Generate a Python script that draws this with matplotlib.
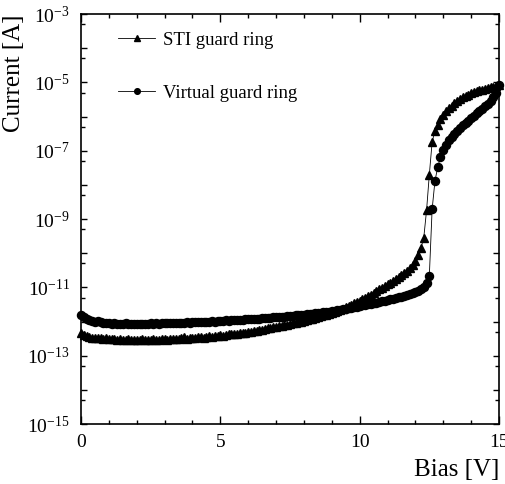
import numpy as np
import matplotlib
matplotlib.use("Agg")
import matplotlib.pyplot as plt
from matplotlib.ticker import FixedLocator, FuncFormatter

plt.rcParams["font.family"] = ["Liberation Serif", "DejaVu Serif"]
plt.rcParams["mathtext.fontset"] = "custom"
plt.rcParams["mathtext.rm"] = "Liberation Serif"
plt.rcParams["mathtext.it"] = "Liberation Serif:italic"

# Bias sweep 0 .. 15 V in 0.1 V steps
bias = np.round(np.arange(0, 151) * 0.1, 1)

# log10 of the leakage current [A], STI guard ring
sti_log = [
    -12.34, -12.40, -12.43, -12.45, -12.47, -12.48, -12.49, -12.47, -12.50, -12.49,
    -12.51, -12.52, -12.50, -12.53, -12.52, -12.54, -12.53, -12.52, -12.54, -12.53,
    -12.53, -12.54, -12.52, -12.53, -12.55, -12.53, -12.52, -12.54, -12.53, -12.51,
    -12.52, -12.53, -12.51, -12.52, -12.50, -12.51, -12.49, -12.46, -12.50, -12.48,
    -12.47, -12.48, -12.46, -12.45, -12.47, -12.44, -12.43, -12.45, -12.42, -12.41,
    -12.40, -12.41, -12.39, -12.38, -12.37, -12.38, -12.36, -12.35, -12.34, -12.33,
    -12.31, -12.30, -12.28, -12.27, -12.25, -12.24, -12.22, -12.20, -12.19, -12.17,
    -12.15, -12.14, -12.12, -12.10, -12.09, -12.07, -12.05, -12.04, -12.02, -12.00,
    -11.98, -11.96, -11.94, -11.92, -11.90, -11.87, -11.85, -11.82, -11.80, -11.77,
    -11.74, -11.71, -11.68, -11.65, -11.62, -11.59, -11.55, -11.51, -11.47, -11.43,
    -11.39, -11.35, -11.30, -11.26, -11.21, -11.16, -11.11, -11.06, -11.01, -10.96,
    -10.91, -10.86, -10.80, -10.75, -10.69, -10.63, -10.57, -10.51, -10.44, -10.36,
    -10.24, -10.06, -9.85, -9.55, -8.75, -7.70, -6.75, -6.42, -6.24, -6.08,
    -5.95, -5.85, -5.76, -5.68, -5.61, -5.55, -5.49, -5.44, -5.40, -5.36,
    -5.32, -5.29, -5.26, -5.23, -5.21, -5.19, -5.17, -5.15, -5.13, -5.11,
    -5.08,
]

# log10 of the leakage current [A], virtual guard ring
vgr_log = [
    -11.81, -11.87, -11.92, -11.96, -11.99, -12.01, -11.99, -12.02, -12.04, -12.03,
    -12.05, -12.06, -12.04, -12.06, -12.07, -12.06, -12.05, -12.07, -12.06, -12.07,
    -12.07, -12.06, -12.07, -12.06, -12.07, -12.05, -12.06, -12.05, -12.06, -12.05,
    -12.05, -12.04, -12.05, -12.04, -12.04, -12.03, -12.04, -12.03, -12.02, -12.03,
    -12.02, -12.01, -12.02, -12.01, -12.00, -12.01, -12.00, -11.99, -12.00, -11.99,
    -11.98, -11.98, -11.97, -11.98, -11.97, -11.96, -11.96, -11.95, -11.95, -11.94,
    -11.94, -11.93, -11.93, -11.92, -11.92, -11.91, -11.90, -11.90, -11.89, -11.88,
    -11.88, -11.87, -11.86, -11.86, -11.85, -11.84, -11.83, -11.82, -11.82, -11.81,
    -11.80, -11.79, -11.78, -11.77, -11.76, -11.75, -11.74, -11.73, -11.72, -11.71,
    -11.70, -11.68, -11.67, -11.66, -11.64, -11.63, -11.61, -11.60, -11.58, -11.57,
    -11.55, -11.53, -11.52, -11.50, -11.48, -11.46, -11.45, -11.43, -11.41, -11.39,
    -11.37, -11.35, -11.33, -11.31, -11.29, -11.27, -11.25, -11.23, -11.20, -11.17,
    -11.14, -11.10, -11.05, -10.98, -10.88, -10.66, -8.72, -7.90, -7.48, -7.19,
    -6.97, -6.82, -6.70, -6.59, -6.50, -6.42, -6.34, -6.26, -6.19, -6.12,
    -6.05, -5.98, -5.91, -5.84, -5.77, -5.70, -5.63, -5.54, -5.43, -5.30,
    -5.08,
]

series_labels = ["STI guard ring", "Virtual guard ring"]
x_ticks = [0, 5, 10, 15]
y_label_exponents = [-15, -13, -11, -9, -7, -5, -3]

sti_current = 10.0 ** np.array(sti_log)
vgr_current = 10.0 ** np.array(vgr_log)

fig = plt.figure(figsize=(5.05, 4.84), dpi=100)
ax = fig.add_axes([81 / 505, 60 / 484, 418 / 505, 410 / 484])

ax.plot(bias, sti_current, color="black", lw=0.6, marker="^", ms=5.6,
        mec="black", mfc="black", label=series_labels[0], clip_on=False)
ax.plot(bias, vgr_current, color="black", lw=0.6, marker="o", ms=5.8,
        mec="black", mfc="black", label=series_labels[1], clip_on=False)

ax.set_yscale("log")
ax.set_xlim(0, 15)
ax.set_ylim(1e-15, 1e-3)

# x ticks: labelled every 5 V, minor every 1 V
ax.xaxis.set_major_locator(FixedLocator(x_ticks))
ax.xaxis.set_minor_locator(FixedLocator(np.arange(0, 16, 1)))
ax.set_xticklabels([str(t) for t in x_ticks])

# y ticks: every decade, labels every second decade, minor at 5x10^n
decades = [10.0 ** e for e in range(-15, -2)]
ax.yaxis.set_major_locator(FixedLocator(decades))
ax.yaxis.set_minor_locator(FixedLocator([5 * 10.0 ** e for e in range(-16, -3)]))


def decade_label(v, pos):
    e = int(round(np.log10(v)))
    return r"$\mathregular{10^{%d}}$" % e if e in y_label_exponents else ""


ax.yaxis.set_major_formatter(FuncFormatter(decade_label))

ax.tick_params(which="both", direction="in", top=True, right=True,
               width=1.0, labelsize=14)
ax.tick_params(axis="x", which="major", length=5.5, pad=7)
ax.tick_params(axis="x", which="minor", length=3)
ax.tick_params(axis="y", which="major", length=4.5, pad=8)
ax.tick_params(axis="y", which="minor", length=3)

for sp in ax.spines.values():
    sp.set_linewidth(1.2)

ax.set_xlabel("Bias [V]", fontsize=18, loc="right", labelpad=6)
ax.set_ylabel("Current [A]", fontsize=18, loc="top", labelpad=2)

ax.legend(loc="upper left", bbox_to_anchor=(0.088, 0.957), frameon=False,
          fontsize=13.5, handlelength=2.0, handletextpad=0.4,
          labelspacing=1.9, markerscale=0.7, borderpad=0, borderaxespad=0)

fig.savefig("out.png", dpi=100)
